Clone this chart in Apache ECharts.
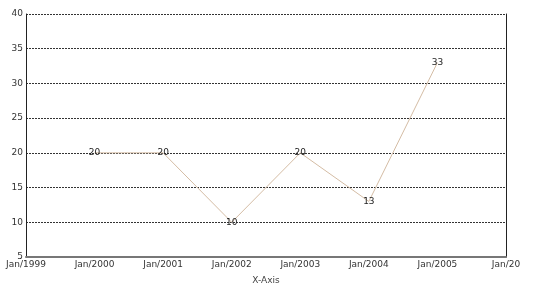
<!DOCTYPE html>
<html><head><meta charset="utf-8">
<script src="https://cdn.jsdelivr.net/npm/echarts@6/dist/echarts.min.js"></script>
<style>html,body{margin:0;padding:0;background:#fff}#c{width:540px;height:296px}</style>
</head><body><div id="c"></div>
<script>
var categories = ['Jan/1999','Jan/2000','Jan/2001','Jan/2002','Jan/2003','Jan/2004','Jan/2005','Jan/20'];
var values = [null, 20, 20, 10, 20, 13, 33, null];
var yTicks = {min: 5, max: 40, interval: 5};
var xTitle = 'X-Axis';

var chart = echarts.init(document.getElementById('c'), null, {renderer: 'canvas'});
var font = 'DejaVu Sans';
chart.setOption({
  animation: false,
  grid: {left: 26, right: 34, top: 14, bottom: 39},
  xAxis: {
    type: 'category', data: categories, boundaryGap: false,
    name: xTitle, nameLocation: 'middle', nameGap: 19,
    nameTextStyle: {fontFamily: font, fontSize: 9, color: '#444'},
    axisLine: {lineStyle: {color: '#777', width: 2}},
    axisTick: {show: false},
    axisLabel: {fontFamily: font, fontSize: 9, color: '#333', margin: 3, interval: 0},
    splitLine: {show: false}
  },
  yAxis: [{
    type: 'value', min: yTicks.min, max: yTicks.max, interval: yTicks.interval,
    axisLine: {show: true, lineStyle: {color: '#222', width: 1}},
    axisTick: {show: false},
    axisLabel: {fontFamily: font, fontSize: 9, color: '#333', margin: 3},
    splitLine: {show: true, lineStyle: {color: '#333', type: [2, 1], width: 1}}
  }, {
    type: 'value', position: 'right', min: yTicks.min, max: yTicks.max, interval: yTicks.interval,
    axisLine: {show: true, lineStyle: {color: '#222', width: 1}},
    axisTick: {show: false}, axisLabel: {show: false}, splitLine: {show: false}
  }],
  series: [{
    type: 'line', data: values, yAxisIndex: 0,
    showSymbol: true, symbol: 'circle', symbolSize: 1,
    itemStyle: {color: 'rgba(0,0,0,0)'},
    lineStyle: {color: '#d4bca4', width: 1},
    label: {show: true, position: 'inside', fontFamily: font, fontSize: 9, color: '#222'}
  }]
});
</script></body></html>
